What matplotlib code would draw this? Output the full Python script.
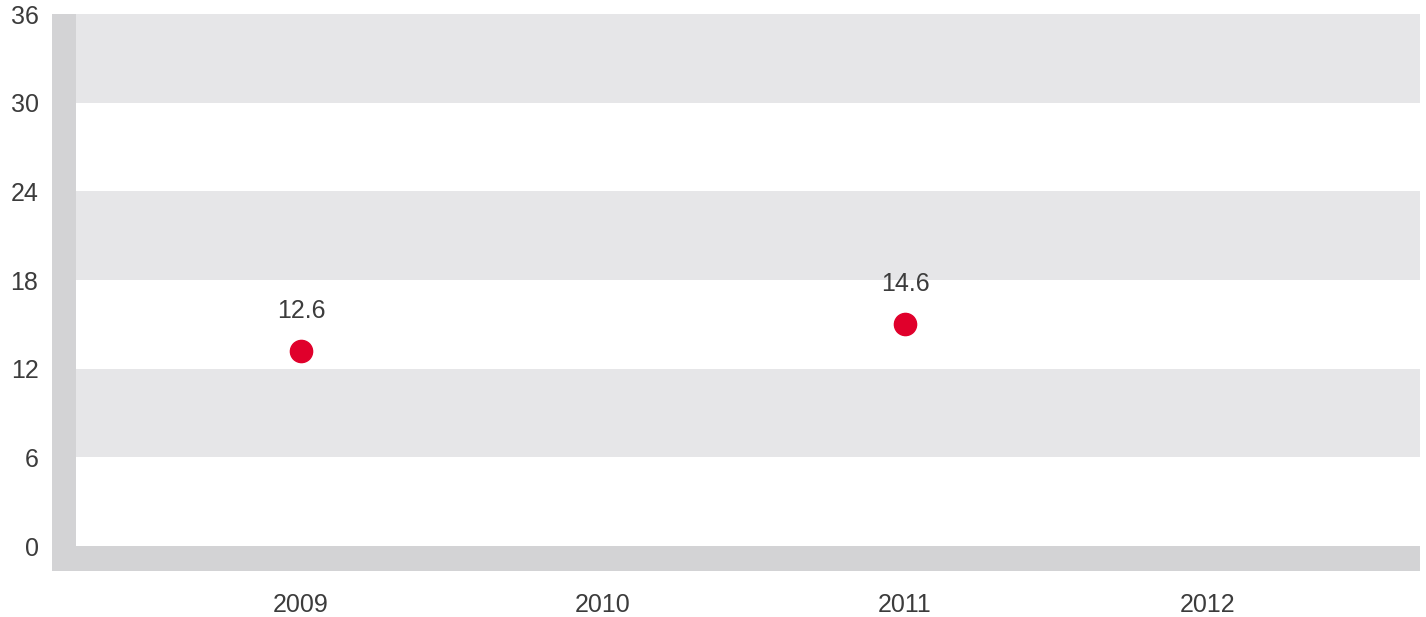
import numpy as np
import matplotlib.pyplot as plt
from matplotlib.patches import Rectangle

plt.rcParams['font.family'] = ['Liberation Sans', 'DejaVu Sans']

years = ['2009', '2010', '2011', '2012']
# marker height as read on the y axis, and the printed value labels
values = [13.2, np.nan, 15.0, np.nan]
value_labels = ['12.6', '', '14.6', '']
y_ticks = [0, 6, 12, 18, 24, 30, 36]

W, H = 1426, 617
fig = plt.figure(figsize=(W / 100, H / 100), dpi=100)
ax = fig.add_axes([76 / W, (H - 546) / H, 1344 / W, 532 / H])

band = '#e6e6e8'
wall = '#d3d3d5'
text_c = '#3c3c3c'

# alternating bands on the back wall
for lo in y_ticks[1::2]:
    ax.axhspan(lo, lo + 6, color=band, lw=0, zorder=0)

# left wall and floor (flat "3D" frame)
fig.patches.append(Rectangle((52 / W, (H - 571) / H), 24 / W, 557 / H,
                             transform=fig.transFigure, color=wall, lw=0))
fig.patches.append(Rectangle((52 / W, (H - 571) / H), 1368 / W, 25 / H,
                             transform=fig.transFigure, color=wall, lw=0))

x = np.arange(len(years))
ax.plot(x, values, 'o', color='#e0002b', markersize=16, zorder=3)
for xi, v, lab in zip(x, values, value_labels):
    if lab:
        ax.annotate(lab, (xi, v), xytext=(0, 29), textcoords='offset points',
                    ha='center', va='center', fontsize=18, color=text_c)

ax.set_xlim(-0.745, 3.705)
ax.set_ylim(0, 36)
ax.set_yticks(y_ticks)
ax.set_xticks(x)
ax.set_xticklabels(years)
ax.tick_params(axis='y', length=0, pad=27, labelsize=18, colors=text_c)
ax.tick_params(axis='x', length=0, pad=34, labelsize=18, colors=text_c)
for s in ax.spines.values():
    s.set_visible(False)

fig.savefig('out.png', dpi=100)
